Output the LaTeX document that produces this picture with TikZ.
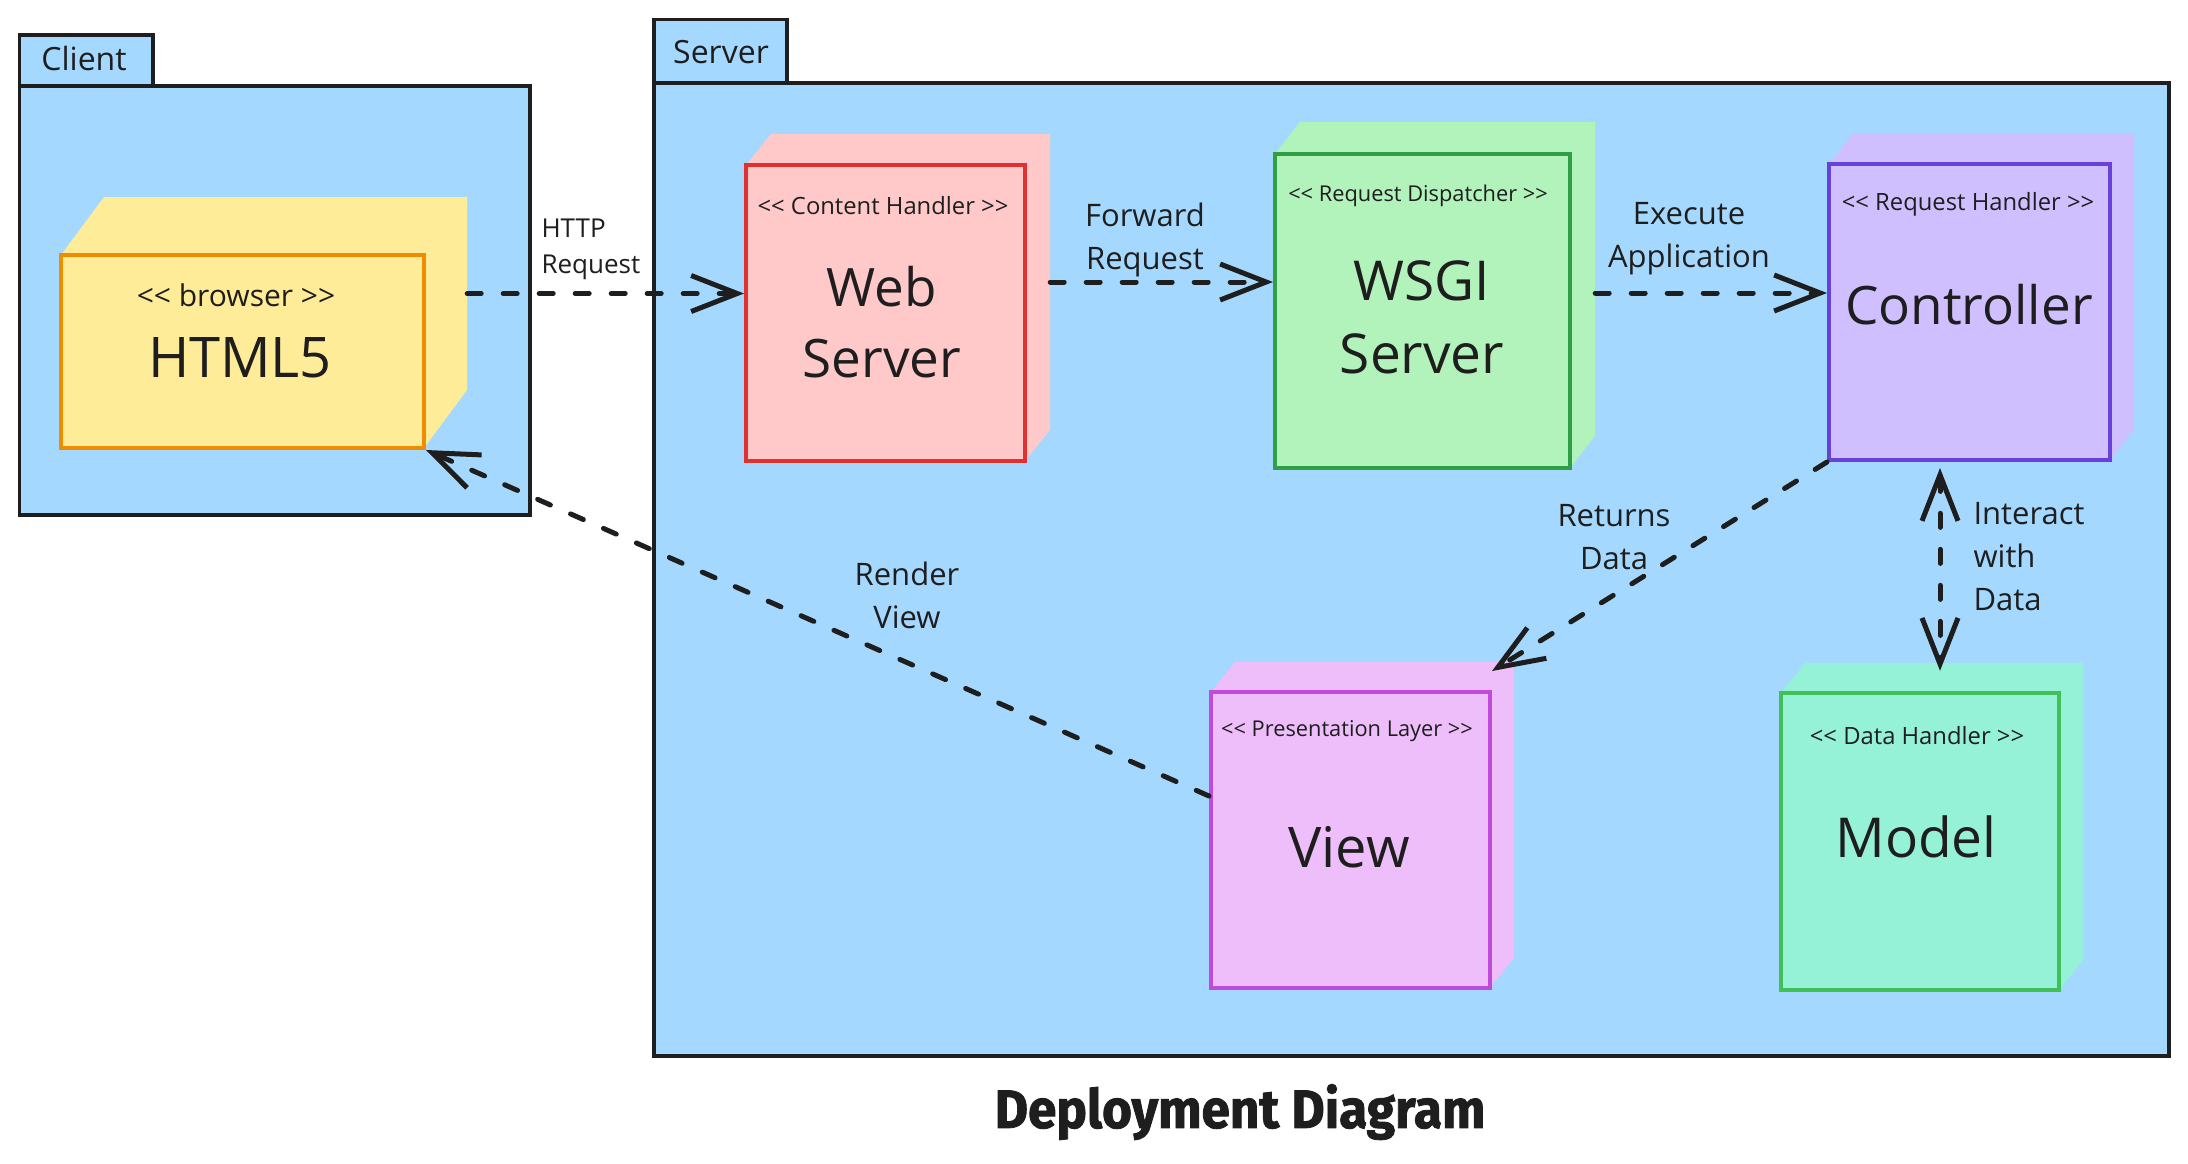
\documentclass[tikz,border=0pt]{standalone}
\usepackage{fontspec}
\setmainfont{Open Sans}
\newfontfamily\titlefont[BoldFeatures={FakeBold=1.6}]{Fira Sans}
\usetikzlibrary{arrows.meta,fit,calc}
\definecolor{ink}{HTML}{1E1E1E}
\definecolor{bgblue}{HTML}{A5D8FF}
\definecolor{yfill}{HTML}{FFEC99}\definecolor{ystroke}{HTML}{F08C00}
\definecolor{rfill}{HTML}{FFC9C9}\definecolor{rstroke}{HTML}{E03131}
\definecolor{gfill}{HTML}{B2F2BB}\definecolor{gstroke}{HTML}{2F9E44}
\definecolor{pfill}{HTML}{D0BFFF}\definecolor{pstroke}{HTML}{6741D9}
\definecolor{vfill}{HTML}{EEBEFA}\definecolor{vstroke}{HTML}{BE4BDB}
\definecolor{mfill}{HTML}{96F2D7}\definecolor{mstroke}{HTML}{40C057}
\tikzset{
  pkg/.style={draw=ink, fill=bgblue, line width=3.5pt, inner sep=0pt},
  pkglabel/.style={text=ink, font=\fontsize{32}{38}\selectfont},
  stereo/.style={text=ink, font=\fontsize{23.8}{28}\selectfont},
  bigname/.style={text=ink, font=\fontsize{53}{71}\selectfont, align=center},
  lbl/.style={text=ink, font=\fontsize{31}{43}\selectfont, align=center},
  conn/.style={draw=ink, line width=5pt, dash pattern=on 14pt off 22pt, line cap=round},
  tip/.style={-{Straight Barb[length=46pt,width=36pt]}},
  tipboth/.style={{Straight Barb[length=46pt,width=36pt]}-{Straight Barb[length=46pt,width=36pt]}},
  hidden/.style={inner sep=0pt, draw=none}
}
\newcommand\lt{<{}<}
\newcommand\gt{>{}>}
% #1 name, #2 x1, #3 y1, #4 x2, #5 y2, #6 dx, #7 dy, #8 fill, #9 stroke
\newcommand\mkdev[9]{%
  \node[hidden, fit={({#2+#6},{#3+#7}) ({#4+#6},{#5+#7})}] (#1back) {};
  \fill[#8] (#2,#3) -- ({#2+#6},{#3+#7}) -- ({#4+#6},{#3+#7}) -- ({#4+#6},{#5+#7}) -- (#4,#5) -- (#2,#5) -- cycle;
  \node[inner sep=0pt, fill=#8, draw=#9, line width=4pt, fit={(#2,#3) (#4,#5)}] (#1) {};
}
\begin{document}
\begin{tikzpicture}[x=1pt,y=-1pt]
\useasboundingbox (0,0) rectangle (2188,1163);
\fill[white] (0,0) rectangle (2188,1163);

% packages
\node[pkg, fit={(19.5,86) (530,515)}] (clientbox) {};
\node[pkg, fit={(19.5,35) (153,86)}] (clienttab) {};
\node[pkglabel] (clientlbl) at (84,58) {Client};
\node[pkg, fit={(654,83) (2169,1056)}] (serverbox) {};
\node[pkg, fit={(654,19.5) (787,83)}] (servertab) {};
\node[pkglabel] (serverlbl) at (721,52) {Server};

% devices
\mkdev{html5}{61}{255}{424}{448}{43}{-58}{yfill}{ystroke}
\mkdev{web}{746}{165}{1025}{461}{25}{-31}{rfill}{rstroke}
\mkdev{wsgi}{1275}{154}{1570}{468}{25}{-32}{gfill}{gstroke}
\mkdev{controller}{1829}{164}{2110}{460}{24}{-31}{pfill}{pstroke}
\mkdev{view}{1211}{692}{1490}{988}{24}{-30}{vfill}{vstroke}
\mkdev{model}{1781}{693}{2059}{990}{24}{-30}{mfill}{mstroke}

% texts in devices
\node[text=ink, font=\fontsize{30}{34}\selectfont] (html5st) at (236,295) {\lt{} browser \gt};
\node[bigname, font=\fontsize{56}{60}\selectfont] (html5nm) at (240,358) {HTML5};
\node[stereo] (webst) at (883,206) {\lt{} Content Handler \gt};
\node[bigname] (webnm) at (882,322) {Web\\Server};
\node[stereo, font=\fontsize{21.8}{26}\selectfont] (wsgist) at (1418,196) {\lt{} Request Dispatcher \gt};
\node[bigname, font=\fontsize{55}{73}\selectfont] (wsginm) at (1422,317) {WSGI\\Server};
\node[stereo] (controllerst) at (1968,204) {\lt{} Request Handler \gt};
\node[bigname] (controllernm) at (1969,305) {Controller};
\node[stereo, font=\fontsize{21.8}{26}\selectfont] (viewst) at (1347,731) {\lt{} Presentation Layer \gt};
\node[bigname, font=\fontsize{56}{60}\selectfont] (viewnm) at (1349,847) {View};
\node[stereo] (modelst) at (1917,736) {\lt{} Data Handler \gt};
\node[bigname, font=\fontsize{55}{60}\selectfont] (modelnm) at (1916,837) {Model};

% connectors
\draw[conn, tip] (html5back.east) -- (html5back.east -| web.west);
\draw[conn, tip] (webback.east) -- (webback.east -| wsgi.west);
\draw[conn, tip] (wsgiback.east |- 0,293) -- (controller.west |- 0,293);
\draw[conn, tip] (controller.south west) -- ($(view.north east)+(0,-19)$);
\draw[conn, tipboth] ($(controller.south)+(-29.5,6)$) -- ($(modelback.north)+(-4,8)$);
\draw[conn, tip] (view.west |- 0,796) -- (html5.south east);

% connector labels
\node[text=ink, font=\fontsize{26}{36}\selectfont, align=left, anchor=west] (httplbl) at (538,249) {HTTP\\Request};
\node[lbl] (fwdlbl) at (1145,240) {Forward\\Request};
\node[lbl] (execlbl) at (1689,239) {Execute\\Application};
\node[lbl] (retlbl) at (1614,537) {Returns\\Data};
\node[lbl, align=left, anchor=west] (interlbl) at (1970,557) {Interact\\with\\Data};
\node[lbl] (renderlbl) at (907,595) {Render\\View};

% title
\node[text=ink, font=\titlefont\bfseries\fontsize{54}{60}\selectfont, xscale=0.95] (title) at (1240,1112) {Deployment Diagram};
\end{tikzpicture}
\end{document}
